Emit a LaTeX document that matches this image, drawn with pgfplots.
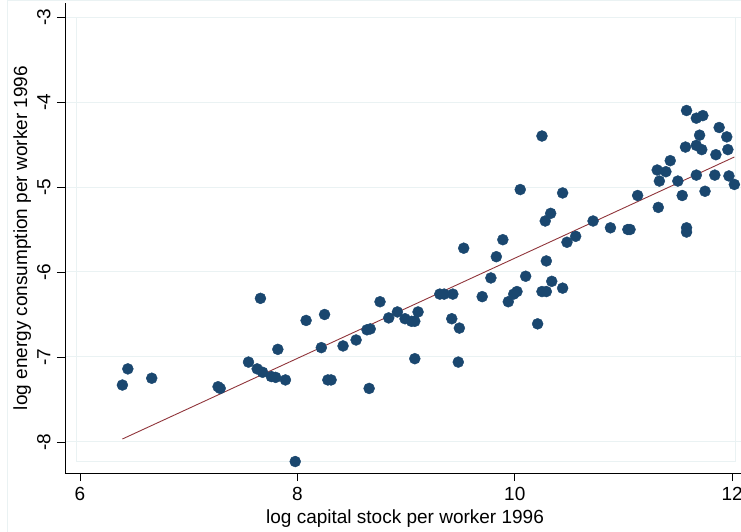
\documentclass[border=0pt]{standalone}
\usepackage{fontspec}
\setmainfont{Liberation Sans}
\usepackage{pgfplots}
\pgfplotsset{compat=1.18}
\usepackage{pgfplotstable}
\definecolor{stnavy}{HTML}{1A476F}
\definecolor{stmaroon}{HTML}{90353B}
\definecolor{stgrid}{HTML}{EAF2F3}

\pgfplotstableread{
x y
6.39 -7.33
6.44 -7.14
6.66 -7.25
7.27 -7.35
7.29 -7.37
7.55 -7.06
7.66 -6.31
7.63 -7.14
7.68 -7.18
7.82 -6.91
7.76 -7.23
7.80 -7.24
7.89 -7.27
7.98 -8.23
8.08 -6.57
8.25 -6.50
8.22 -6.89
8.28 -7.27
8.31 -7.27
8.42 -6.87
8.54 -6.80
8.64 -6.68
8.67 -6.67
8.66 -7.37
8.76 -6.35
8.84 -6.54
8.92 -6.47
8.99 -6.55
9.05 -6.58
9.08 -6.58
9.11 -6.47
9.08 -7.02
9.31 -6.26
9.35 -6.26
9.43 -6.26
9.42 -6.55
9.49 -6.66
9.48 -7.06
9.53 -5.72
9.70 -6.29
9.78 -6.07
9.83 -5.82
9.89 -5.62
9.94 -6.35
9.99 -6.26
10.02 -6.23
10.05 -5.03
10.10 -6.05
10.21 -6.61
10.25 -4.40
10.25 -6.23
10.29 -6.23
10.29 -5.87
10.28 -5.40
10.33 -5.31
10.34 -6.11
10.44 -5.07
10.44 -6.19
10.48 -5.65
10.56 -5.58
10.72 -5.40
10.88 -5.48
11.04 -5.50
11.06 -5.50
11.13 -5.10
11.31 -4.80
11.33 -4.93
11.32 -5.24
11.39 -4.82
11.43 -4.69
11.50 -4.93
11.54 -5.10
11.58 -4.10
11.58 -5.48
11.58 -5.53
11.57 -4.53
11.67 -4.19
11.73 -4.16
11.70 -4.39
11.67 -4.51
11.72 -4.56
11.67 -4.86
11.75 -5.05
11.85 -4.62
11.84 -4.86
11.88 -4.30
11.95 -4.41
11.96 -4.56
11.97 -4.87
12.02 -4.97
}\pts

\begin{document}
\fontsize{19}{23}\selectfont
\begin{tikzpicture}
\begin{axis}[name=ax, scale only axis, width=676pt, height=470pt,
  xmin=5.862, xmax=12.081, ymin=-8.365, ymax=-2.835,
  axis lines=left, axis line style={black, line width=0.8pt, -},
  xtick={6,8,10,12}, xticklabels={6,8,10,12},
  ytick={-8,-7,-6,-5,-4,-3}, yticklabels={-8,-7,-6,-5,-4,-3},
  tick align=outside, major tick length=8pt,
  tick style={black, line width=0.8pt},
  ymajorgrids, grid style={stgrid, line width=1pt},
  tick label style={font=\fontsize{19}{23}\selectfont},
  yticklabel style={rotate=90, anchor=south},
  xlabel={log capital stock per worker 1996},
  ylabel={log energy consumption per worker 1996},
  every axis x label/.style={at={(axis description cs:0.503,-0.1064)}, anchor=base, inner sep=0pt, font=\fontsize{19}{23}\selectfont},
  every axis y label/.style={at={(axis description cs:-0.0562,0.5)}, rotate=90, anchor=base, inner sep=0pt, font=\fontsize{19}{23}\selectfont},
  clip=false,
]
\draw[stgrid, line width=1pt] (axis cs:5.972,-8.235) rectangle (axis cs:12.027,-3);
\addplot[only marks, mark=*, mark size=5.5pt, color=stnavy, mark options={draw=stnavy, fill=stnavy}] table[x=x, y=y] {\pts};
\addplot[stmaroon, line width=0.9pt, no marks] coordinates {(6.39,-7.965) (12.02,-4.647)};
\end{axis}
\draw[stgrid, line width=1pt] ([xshift=-57pt,yshift=-60pt]ax.south west) rectangle ([xshift=5pt,yshift=2pt]ax.north east);
\pgfresetboundingbox
\useasboundingbox ([xshift=-65pt,yshift=-58pt]ax.south west) rectangle ([yshift=3pt]ax.north east);
\end{tikzpicture}
\end{document}
